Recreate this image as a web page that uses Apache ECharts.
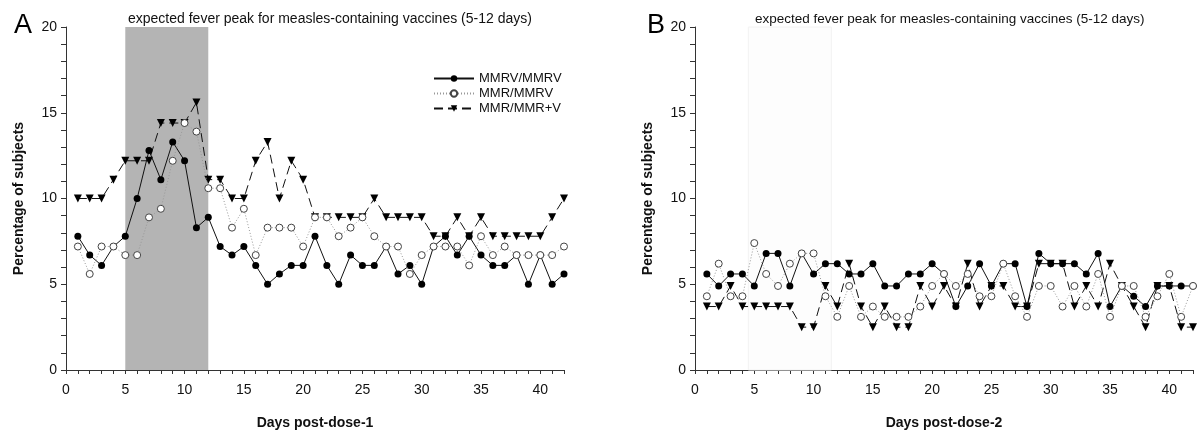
<!DOCTYPE html>
<html>
<head>
<meta charset="utf-8">
<script src="https://cdn.jsdelivr.net/npm/echarts@6/dist/echarts.min.js"></script>
<style>
  html, body { margin: 0; padding: 0; background: #fff; }
  #chart { width: 1198px; height: 435px; }
</style>
</head>
<body>
<div id="chart"></div>
<script>
var days = [1, 2, 3, 4, 5, 6, 7, 8, 9, 10, 11, 12, 13, 14, 15, 16, 17, 18, 19, 20, 21,
  22, 23, 24, 25, 26, 27, 28, 29, 30, 31, 32, 33, 34, 35, 36, 37, 38, 39, 40, 41, 42]
var seriesNames = ['MMRV/MMRV', 'MMR/MMRV', 'MMR/MMR+V']
var feverWindow = [5, 12]

// dose 1
var a_mmrv = [7.8, 6.7, 6.1, 7.2, 7.8, 10.0, 12.8, 11.1, 13.3, 12.2, 8.3, 8.9, 7.2, 6.7, 7.2, 6.1, 5.0, 5.6, 6.1, 6.1, 7.8,
  6.1, 5.0, 6.7, 6.1, 6.1, 7.2, 5.6, 6.1, 5.0, 7.2, 7.8, 6.7, 7.8, 6.7, 6.1, 6.1, 6.7, 5.0, 6.7, 5.0, 5.6]
var a_mmr = [7.2, 5.6, 7.2, 7.2, 6.7, 6.7, 8.9, 9.4, 12.2, 14.4, 13.9, 10.6, 10.6, 8.3, 9.4, 6.7, 8.3, 8.3, 8.3, 7.2, 8.9,
  8.9, 7.8, 8.3, 8.9, 7.8, 7.2, 7.2, 5.6, 6.7, 7.2, 7.2, 7.2, 6.1, 7.8, 6.7, 7.2, 6.7, 6.7, 6.7, 6.7, 7.2]
var a_mmrv_sep = [10.0, 10.0, 10.0, 11.1, 12.2, 12.2, 12.2, 14.4, 14.4, 14.4, 15.6, 11.1, 11.1, 10.0, 10.0, 12.2, 13.3, 10.0, 12.2, 11.1, 8.9,
  8.9, 8.9, 8.9, 8.9, 10.0, 8.9, 8.9, 8.9, 8.9, 7.8, 7.8, 8.9, 7.8, 8.9, 7.8, 7.8, 7.8, 7.8, 7.8, 8.9, 10.0]

// dose 2
var b_mmrv = [5.6, 4.9, 5.6, 5.6, 4.9, 6.8, 6.8, 4.9, 6.8, 5.6, 6.2, 6.2, 5.6, 5.6, 6.2, 4.9, 4.9, 5.6, 5.6, 6.2, 5.6,
  3.7, 4.9, 6.2, 4.9, 6.2, 6.2, 3.7, 6.8, 6.2, 6.2, 6.2, 5.6, 6.8, 3.7, 4.9, 4.3, 3.7, 4.9, 4.9, 4.9, 4.9]
var b_mmr = [4.3, 6.2, 4.3, 4.3, 7.4, 5.6, 4.9, 6.2, 6.8, 6.8, 4.3, 3.1, 4.9, 3.1, 3.7, 3.1, 3.1, 3.1, 3.7, 4.9, 5.6,
  4.9, 5.6, 4.3, 4.3, 6.2, 4.3, 3.1, 4.9, 4.9, 3.7, 4.9, 3.7, 5.6, 3.1, 4.9, 4.9, 3.1, 4.3, 5.6, 3.1, 4.9]
var b_mmrv_sep = [3.7, 3.7, 4.9, 3.7, 3.7, 3.7, 3.7, 3.7, 2.5, 2.5, 4.9, 3.7, 6.2, 3.7, 2.5, 3.7, 2.5, 2.5, 4.9, 3.7, 4.9,
  3.7, 6.2, 3.7, 4.9, 4.9, 3.7, 3.7, 6.2, 6.2, 6.2, 3.7, 4.9, 3.7, 6.2, 4.9, 3.7, 2.5, 4.9, 4.9, 2.5, 2.5]

var font = 'Liberation Sans, Arial, sans-serif'

function pairs(vals) {
  return days.map(function(d, i) { return [d, vals[i]] })
}

function xAxisFor(idx, name) {
  return {
    type: 'value',
    gridIndex: idx,
    min: 0,
    max: 42,
    interval: 1,
    name: name,
    nameLocation: 'middle',
    nameGap: 46,
    nameTextStyle: { fontFamily: font, fontSize: 14, fontWeight: 'bold', color: '#111' },
    axisLine: { lineStyle: { color: '#333', width: 1 } },
    axisTick: { length: 4, lineStyle: { color: '#333' } },
    axisLabel: {
      fontFamily: font,
      fontSize: 14,
      color: '#111',
      margin: 13,
      formatter: function(v) { return v % 5 === 0 ? v : '' }
    },
    splitLine: { show: false }
  }
}

function yAxisFor(idx) {
  return {
    type: 'value',
    gridIndex: idx,
    min: 0,
    max: 20,
    interval: 1,
    name: 'Percentage of subjects',
    nameLocation: 'middle',
    nameGap: 40,
    nameTextStyle: { fontFamily: font, fontSize: 14, fontWeight: 'bold', color: '#111' },
    axisLine: { show: true, lineStyle: { color: '#333', width: 1 } },
    axisTick: { show: true, length: 5, lineStyle: { color: '#333' } },
    axisLabel: {
      fontFamily: font,
      fontSize: 14,
      color: '#111',
      margin: 9,
      formatter: function(v) { return v % 5 === 0 ? v : '' }
    },
    splitLine: { show: false }
  }
}

function seriesFor(idx, vals) {
  var ax = { xAxisIndex: idx, yAxisIndex: idx }
  return [
    Object.assign({
      name: seriesNames[0],
      type: 'line',
      data: pairs(vals[0]),
      symbol: 'circle',
      symbolSize: 7,
      color: '#000',
      itemStyle: { color: '#000' },
      lineStyle: { color: '#111', width: 1 },
      z: 3
    }, ax),
    Object.assign({
      name: seriesNames[1],
      type: 'line',
      data: pairs(vals[1]),
      symbol: 'circle',
      symbolSize: 7,
      color: '#fff',
      itemStyle: { color: '#fff', borderColor: '#444', borderWidth: 1 },
      lineStyle: { color: '#999', width: 1, type: [1, 2] },
      z: 4
    }, ax),
    Object.assign({
      name: seriesNames[2],
      type: 'line',
      data: pairs(vals[2]),
      symbol: 'triangle',
      symbolRotate: 180,
      symbolSize: 8,
      color: '#000',
      itemStyle: { color: '#000' },
      lineStyle: { color: '#111', width: 1, type: [9, 5] },
      z: 2
    }, ax)
  ]
}

var myChart = echarts.init(document.getElementById('chart'))

var series = []
// shaded fever-peak window on dose 1
series.push({
  type: 'line',
  xAxisIndex: 0,
  yAxisIndex: 0,
  data: [],
  silent: true,
  z: 1,
  markArea: {
    silent: true,
    itemStyle: { color: '#b4b4b4', opacity: 1 },
    data: [[{ xAxis: feverWindow[0], yAxis: 0 }, { xAxis: feverWindow[1], yAxis: 20 }]]
  }
})
// very faint band on dose 2
series.push({
  type: 'line',
  xAxisIndex: 1,
  yAxisIndex: 1,
  data: [],
  silent: true,
  z: 1,
  markArea: {
    silent: true,
    itemStyle: { color: '#fdfdfd', opacity: 1, borderColor: '#f2f2f2', borderWidth: 1 },
    data: [[{ xAxis: feverWindow[0] - 0.5, yAxis: 0 }, { xAxis: feverWindow[1] - 0.5, yAxis: 20 }]]
  }
})
series = series.concat(seriesFor(0, [a_mmrv, a_mmr, a_mmrv_sep]))
series = series.concat(seriesFor(1, [b_mmrv, b_mmr, b_mmrv_sep]))

var option = {
  animation: false,
  backgroundColor: '#fff',
  textStyle: { fontFamily: font },
  title: [
    { text: 'A', left: 9, top: 7, textStyle: { fontFamily: font, fontSize: 27, fontWeight: 'normal', color: '#000' } },
    { text: 'B', left: 642, top: 7, textStyle: { fontFamily: font, fontSize: 27, fontWeight: 'normal', color: '#000' } },
    {
      text: 'expected fever peak for measles-containing vaccines (5-12 days)',
      left: 123, top: 7,
      textStyle: { fontFamily: font, fontSize: 14, fontWeight: 'normal', color: '#111' }
    },
    {
      text: 'expected fever peak for measles-containing vaccines (5-12 days)',
      left: 750, top: 7,
      textStyle: { fontFamily: font, fontSize: 13.5, fontWeight: 'normal', color: '#111' }
    }
  ],
  legend: {
    data: seriesNames,
    orient: 'vertical',
    left: 428,
    top: 67,
    itemGap: 2,
    itemWidth: 40,
    itemHeight: 8,
    textStyle: { fontFamily: font, fontSize: 13, color: '#111' }
  },
  grid: [
    { left: 66, top: 27, width: 498, height: 348 },
    { left: 695, top: 27, width: 498, height: 348 }
  ],
  xAxis: [xAxisFor(0, 'Days post-dose-1'), xAxisFor(1, 'Days post-dose-2')],
  yAxis: [yAxisFor(0), yAxisFor(1)],
  series: series
}

myChart.setOption(option)
</script>
</body>
</html>
